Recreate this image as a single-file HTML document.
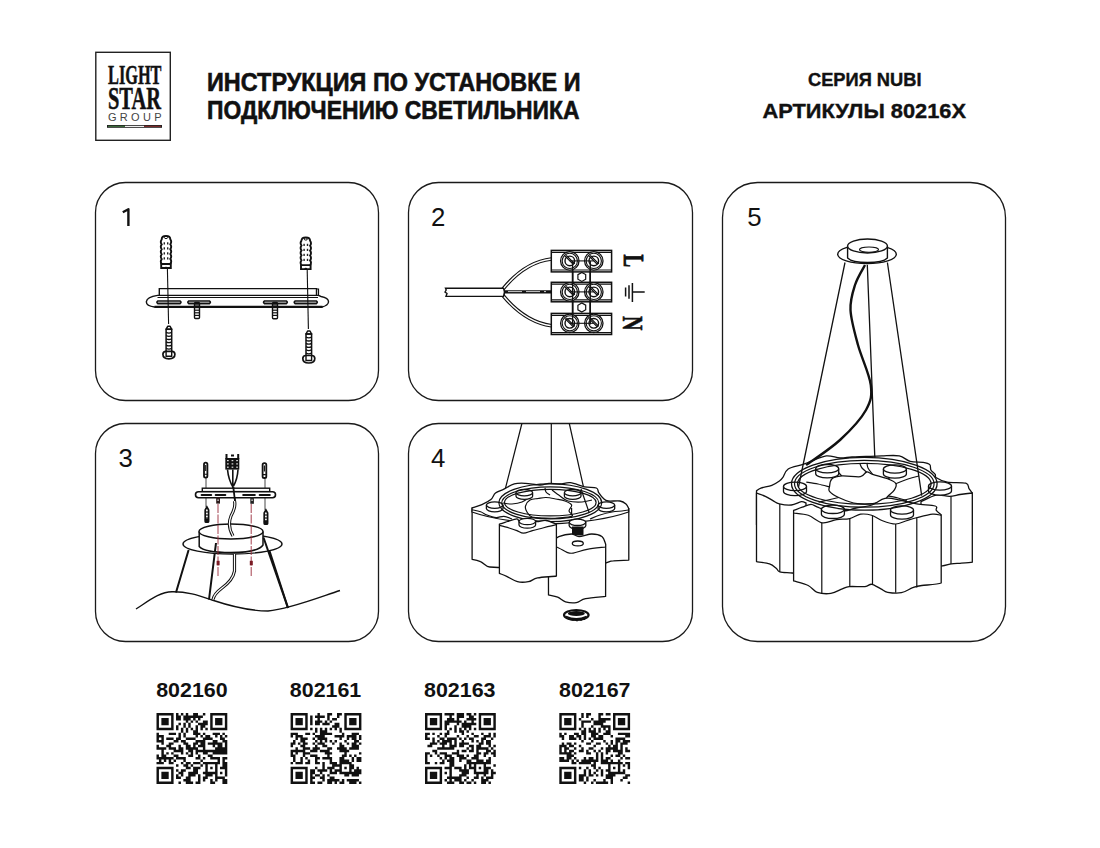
<!DOCTYPE html>
<html><head><meta charset="utf-8"><style>
html,body{margin:0;padding:0;background:#fff;width:1100px;height:848px;overflow:hidden}
svg{position:absolute;left:0;top:0;display:block}
text{font-family:"Liberation Sans",sans-serif}
</style></head><body>
<svg width="1100" height="848" viewBox="0 0 1100 848">
<text x="207" y="90.5" font-size="25.3" font-weight="bold" textLength="373.5" lengthAdjust="spacingAndGlyphs" fill="#111" stroke="#111" stroke-width="0.6">ИНСТРУКЦИЯ ПО УСТАНОВКЕ И</text>
<text x="207" y="118.9" font-size="25.3" font-weight="bold" textLength="372.5" lengthAdjust="spacingAndGlyphs" fill="#111" stroke="#111" stroke-width="0.6">ПОДКЛЮЧЕНИЮ СВЕТИЛЬНИКА</text>
<text x="808" y="86.4" font-size="18.7" font-weight="bold" textLength="113.5" lengthAdjust="spacingAndGlyphs" fill="#111" stroke="#111" stroke-width="0.4">СЕРИЯ NUBI</text>
<text x="762.5" y="118.4" font-size="21" font-weight="bold" textLength="203.5" lengthAdjust="spacingAndGlyphs" fill="#111" stroke="#111" stroke-width="0.4">АРТИКУЛЫ 80216X</text>
<rect x="95.5" y="182.5" width="283.0" height="218.0" rx="30" ry="30" fill="none" stroke="#1a1a1a" stroke-width="1.3"/>
<rect x="408.5" y="182.5" width="284.0" height="218.0" rx="30" ry="30" fill="none" stroke="#1a1a1a" stroke-width="1.3"/>
<rect x="95.5" y="423.5" width="283.0" height="218.0" rx="30" ry="30" fill="none" stroke="#1a1a1a" stroke-width="1.3"/>
<rect x="408.5" y="423.5" width="284.0" height="218.0" rx="30" ry="30" fill="none" stroke="#1a1a1a" stroke-width="1.3"/>
<rect x="722.5" y="182.5" width="283.0" height="459.0" rx="35" ry="35" fill="none" stroke="#1a1a1a" stroke-width="1.3"/>
<path d="M122.8 212.3 L128.4 209.2 V226" fill="none" stroke="#111" stroke-width="2.4" stroke-linejoin="round"/>
<text x="431" y="226" font-size="25.8" fill="#111">2</text>
<text x="118.5" y="466.8" font-size="25.8" fill="#111">3</text>
<text x="431" y="466.8" font-size="25.8" fill="#111">4</text>
<text x="747.3" y="226" font-size="25.8" fill="#111">5</text>
<text x="156.2" y="696.7" font-size="20.7" font-weight="bold" textLength="71.5" lengthAdjust="spacingAndGlyphs" fill="#111">802160</text>
<path d="M156.50 713.10h17.09v2.44h-17.09zM176.03 713.10h2.44v2.44h-2.44zM180.91 713.10h2.44v2.44h-2.44zM185.80 713.10h2.44v2.44h-2.44zM193.12 713.10h4.88v2.44h-4.88zM202.89 713.10h2.44v2.44h-2.44zM210.21 713.10h17.09v2.44h-17.09zM156.50 715.54h2.44v2.44h-2.44zM171.15 715.54h2.44v2.44h-2.44zM176.03 715.54h4.88v2.44h-4.88zM183.36 715.54h19.53v2.44h-19.53zM210.21 715.54h2.44v2.44h-2.44zM224.86 715.54h2.44v2.44h-2.44zM156.50 717.98h2.44v2.44h-2.44zM161.38 717.98h7.32v2.44h-7.32zM171.15 717.98h2.44v2.44h-2.44zM176.03 717.98h4.88v2.44h-4.88zM183.36 717.98h7.32v2.44h-7.32zM193.12 717.98h2.44v2.44h-2.44zM198.00 717.98h2.44v2.44h-2.44zM210.21 717.98h2.44v2.44h-2.44zM215.09 717.98h7.32v2.44h-7.32zM224.86 717.98h2.44v2.44h-2.44zM156.50 720.42h2.44v2.44h-2.44zM161.38 720.42h7.32v2.44h-7.32zM171.15 720.42h2.44v2.44h-2.44zM185.80 720.42h2.44v2.44h-2.44zM190.68 720.42h2.44v2.44h-2.44zM195.56 720.42h2.44v2.44h-2.44zM202.89 720.42h4.88v2.44h-4.88zM210.21 720.42h2.44v2.44h-2.44zM215.09 720.42h7.32v2.44h-7.32zM224.86 720.42h2.44v2.44h-2.44zM156.50 722.87h2.44v2.44h-2.44zM161.38 722.87h7.32v2.44h-7.32zM171.15 722.87h2.44v2.44h-2.44zM178.47 722.87h2.44v2.44h-2.44zM183.36 722.87h2.44v2.44h-2.44zM188.24 722.87h2.44v2.44h-2.44zM198.00 722.87h9.77v2.44h-9.77zM210.21 722.87h2.44v2.44h-2.44zM215.09 722.87h7.32v2.44h-7.32zM224.86 722.87h2.44v2.44h-2.44zM156.50 725.31h2.44v2.44h-2.44zM171.15 725.31h2.44v2.44h-2.44zM176.03 725.31h2.44v2.44h-2.44zM183.36 725.31h2.44v2.44h-2.44zM188.24 725.31h2.44v2.44h-2.44zM195.56 725.31h2.44v2.44h-2.44zM200.44 725.31h4.88v2.44h-4.88zM210.21 725.31h2.44v2.44h-2.44zM224.86 725.31h2.44v2.44h-2.44zM156.50 727.75h17.09v2.44h-17.09zM176.03 727.75h2.44v2.44h-2.44zM180.91 727.75h2.44v2.44h-2.44zM185.80 727.75h2.44v2.44h-2.44zM190.68 727.75h2.44v2.44h-2.44zM195.56 727.75h2.44v2.44h-2.44zM200.44 727.75h2.44v2.44h-2.44zM205.33 727.75h2.44v2.44h-2.44zM210.21 727.75h17.09v2.44h-17.09zM180.91 730.19h2.44v2.44h-2.44zM185.80 730.19h2.44v2.44h-2.44zM193.12 730.19h4.88v2.44h-4.88zM156.50 732.63h2.44v2.44h-2.44zM168.71 732.63h7.32v2.44h-7.32zM178.47 732.63h2.44v2.44h-2.44zM183.36 732.63h2.44v2.44h-2.44zM193.12 732.63h7.32v2.44h-7.32zM202.89 732.63h2.44v2.44h-2.44zM212.65 732.63h7.32v2.44h-7.32zM222.42 732.63h2.44v2.44h-2.44zM156.50 735.07h7.32v2.44h-7.32zM178.47 735.07h2.44v2.44h-2.44zM183.36 735.07h2.44v2.44h-2.44zM195.56 735.07h2.44v2.44h-2.44zM200.44 735.07h2.44v2.44h-2.44zM205.33 735.07h4.88v2.44h-4.88zM215.09 735.07h2.44v2.44h-2.44zM219.98 735.07h2.44v2.44h-2.44zM224.86 735.07h2.44v2.44h-2.44zM156.50 737.51h2.44v2.44h-2.44zM161.38 737.51h2.44v2.44h-2.44zM166.27 737.51h7.32v2.44h-7.32zM176.03 737.51h4.88v2.44h-4.88zM185.80 737.51h9.77v2.44h-9.77zM202.89 737.51h9.77v2.44h-9.77zM219.98 737.51h4.88v2.44h-4.88zM156.50 739.96h7.32v2.44h-7.32zM173.59 739.96h4.88v2.44h-4.88zM180.91 739.96h4.88v2.44h-4.88zM195.56 739.96h9.77v2.44h-9.77zM212.65 739.96h4.88v2.44h-4.88zM222.42 739.96h4.88v2.44h-4.88zM161.38 742.40h2.44v2.44h-2.44zM168.71 742.40h4.88v2.44h-4.88zM183.36 742.40h4.88v2.44h-4.88zM193.12 742.40h4.88v2.44h-4.88zM200.44 742.40h4.88v2.44h-4.88zM207.77 742.40h14.65v2.44h-14.65zM224.86 742.40h2.44v2.44h-2.44zM156.50 744.84h2.44v2.44h-2.44zM166.27 744.84h4.88v2.44h-4.88zM178.47 744.84h2.44v2.44h-2.44zM185.80 744.84h4.88v2.44h-4.88zM193.12 744.84h2.44v2.44h-2.44zM198.00 744.84h7.32v2.44h-7.32zM212.65 744.84h2.44v2.44h-2.44zM217.53 744.84h4.88v2.44h-4.88zM224.86 744.84h2.44v2.44h-2.44zM156.50 747.28h9.77v2.44h-9.77zM168.71 747.28h7.32v2.44h-7.32zM178.47 747.28h4.88v2.44h-4.88zM185.80 747.28h12.21v2.44h-12.21zM202.89 747.28h2.44v2.44h-2.44zM215.09 747.28h12.21v2.44h-12.21zM161.38 749.72h2.44v2.44h-2.44zM173.59 749.72h9.77v2.44h-9.77zM188.24 749.72h4.88v2.44h-4.88zM195.56 749.72h31.74v2.44h-31.74zM161.38 752.16h2.44v2.44h-2.44zM166.27 752.16h2.44v2.44h-2.44zM171.15 752.16h2.44v2.44h-2.44zM180.91 752.16h2.44v2.44h-2.44zM185.80 752.16h2.44v2.44h-2.44zM190.68 752.16h2.44v2.44h-2.44zM195.56 752.16h2.44v2.44h-2.44zM202.89 752.16h4.88v2.44h-4.88zM212.65 752.16h14.65v2.44h-14.65zM156.50 754.60h2.44v2.44h-2.44zM161.38 754.60h4.88v2.44h-4.88zM173.59 754.60h4.88v2.44h-4.88zM188.24 754.60h4.88v2.44h-4.88zM198.00 754.60h2.44v2.44h-2.44zM207.77 754.60h4.88v2.44h-4.88zM156.50 757.04h17.09v2.44h-17.09zM176.03 757.04h9.77v2.44h-9.77zM195.56 757.04h4.88v2.44h-4.88zM202.89 757.04h2.44v2.44h-2.44zM210.21 757.04h9.77v2.44h-9.77zM222.42 757.04h4.88v2.44h-4.88zM158.94 759.49h2.44v2.44h-2.44zM163.82 759.49h2.44v2.44h-2.44zM168.71 759.49h2.44v2.44h-2.44zM173.59 759.49h2.44v2.44h-2.44zM183.36 759.49h2.44v2.44h-2.44zM200.44 759.49h2.44v2.44h-2.44zM217.53 759.49h2.44v2.44h-2.44zM222.42 759.49h2.44v2.44h-2.44zM156.50 761.93h7.32v2.44h-7.32zM168.71 761.93h4.88v2.44h-4.88zM180.91 761.93h2.44v2.44h-2.44zM185.80 761.93h4.88v2.44h-4.88zM193.12 761.93h7.32v2.44h-7.32zM202.89 761.93h17.09v2.44h-17.09zM222.42 761.93h4.88v2.44h-4.88zM176.03 764.37h2.44v2.44h-2.44zM183.36 764.37h4.88v2.44h-4.88zM190.68 764.37h2.44v2.44h-2.44zM200.44 764.37h2.44v2.44h-2.44zM205.33 764.37h2.44v2.44h-2.44zM215.09 764.37h2.44v2.44h-2.44zM222.42 764.37h4.88v2.44h-4.88zM156.50 766.81h17.09v2.44h-17.09zM185.80 766.81h4.88v2.44h-4.88zM193.12 766.81h7.32v2.44h-7.32zM205.33 766.81h2.44v2.44h-2.44zM210.21 766.81h2.44v2.44h-2.44zM215.09 766.81h2.44v2.44h-2.44zM219.98 766.81h7.32v2.44h-7.32zM156.50 769.25h2.44v2.44h-2.44zM171.15 769.25h2.44v2.44h-2.44zM176.03 769.25h2.44v2.44h-2.44zM180.91 769.25h4.88v2.44h-4.88zM193.12 769.25h4.88v2.44h-4.88zM205.33 769.25h2.44v2.44h-2.44zM215.09 769.25h2.44v2.44h-2.44zM224.86 769.25h2.44v2.44h-2.44zM156.50 771.69h2.44v2.44h-2.44zM161.38 771.69h7.32v2.44h-7.32zM171.15 771.69h2.44v2.44h-2.44zM178.47 771.69h4.88v2.44h-4.88zM188.24 771.69h9.77v2.44h-9.77zM202.89 771.69h14.65v2.44h-14.65zM219.98 771.69h2.44v2.44h-2.44zM224.86 771.69h2.44v2.44h-2.44zM156.50 774.13h2.44v2.44h-2.44zM161.38 774.13h7.32v2.44h-7.32zM171.15 774.13h2.44v2.44h-2.44zM176.03 774.13h2.44v2.44h-2.44zM180.91 774.13h2.44v2.44h-2.44zM188.24 774.13h7.32v2.44h-7.32zM198.00 774.13h2.44v2.44h-2.44zM205.33 774.13h7.32v2.44h-7.32zM215.09 774.13h2.44v2.44h-2.44zM224.86 774.13h2.44v2.44h-2.44zM156.50 776.58h2.44v2.44h-2.44zM161.38 776.58h7.32v2.44h-7.32zM171.15 776.58h2.44v2.44h-2.44zM176.03 776.58h4.88v2.44h-4.88zM185.80 776.58h4.88v2.44h-4.88zM198.00 776.58h2.44v2.44h-2.44zM202.89 776.58h4.88v2.44h-4.88zM215.09 776.58h9.77v2.44h-9.77zM156.50 779.02h2.44v2.44h-2.44zM171.15 779.02h2.44v2.44h-2.44zM183.36 779.02h7.32v2.44h-7.32zM198.00 779.02h2.44v2.44h-2.44zM202.89 779.02h2.44v2.44h-2.44zM210.21 779.02h2.44v2.44h-2.44zM215.09 779.02h2.44v2.44h-2.44zM222.42 779.02h4.88v2.44h-4.88zM156.50 781.46h17.09v2.44h-17.09zM178.47 781.46h2.44v2.44h-2.44zM185.80 781.46h7.32v2.44h-7.32zM195.56 781.46h4.88v2.44h-4.88zM210.21 781.46h4.88v2.44h-4.88zM222.42 781.46h4.88v2.44h-4.88z" fill="#111"/>
<text x="289.8" y="696.7" font-size="20.7" font-weight="bold" textLength="71.5" lengthAdjust="spacingAndGlyphs" fill="#111">802161</text>
<path d="M290.60 713.10h17.09v2.44h-17.09zM317.46 713.10h2.44v2.44h-2.44zM327.22 713.10h4.88v2.44h-4.88zM336.99 713.10h4.88v2.44h-4.88zM344.31 713.10h17.09v2.44h-17.09zM290.60 715.54h2.44v2.44h-2.44zM305.25 715.54h2.44v2.44h-2.44zM310.13 715.54h2.44v2.44h-2.44zM315.01 715.54h9.77v2.44h-9.77zM327.22 715.54h2.44v2.44h-2.44zM336.99 715.54h2.44v2.44h-2.44zM344.31 715.54h2.44v2.44h-2.44zM358.96 715.54h2.44v2.44h-2.44zM290.60 717.98h2.44v2.44h-2.44zM295.48 717.98h7.32v2.44h-7.32zM305.25 717.98h2.44v2.44h-2.44zM310.13 717.98h2.44v2.44h-2.44zM317.46 717.98h2.44v2.44h-2.44zM327.22 717.98h2.44v2.44h-2.44zM332.10 717.98h4.88v2.44h-4.88zM344.31 717.98h2.44v2.44h-2.44zM349.19 717.98h7.32v2.44h-7.32zM358.96 717.98h2.44v2.44h-2.44zM290.60 720.42h2.44v2.44h-2.44zM295.48 720.42h7.32v2.44h-7.32zM305.25 720.42h2.44v2.44h-2.44zM310.13 720.42h2.44v2.44h-2.44zM315.01 720.42h7.32v2.44h-7.32zM324.78 720.42h2.44v2.44h-2.44zM329.66 720.42h2.44v2.44h-2.44zM344.31 720.42h2.44v2.44h-2.44zM349.19 720.42h7.32v2.44h-7.32zM358.96 720.42h2.44v2.44h-2.44zM290.60 722.87h2.44v2.44h-2.44zM295.48 722.87h7.32v2.44h-7.32zM305.25 722.87h2.44v2.44h-2.44zM310.13 722.87h2.44v2.44h-2.44zM315.01 722.87h4.88v2.44h-4.88zM322.34 722.87h7.32v2.44h-7.32zM334.54 722.87h4.88v2.44h-4.88zM344.31 722.87h2.44v2.44h-2.44zM349.19 722.87h7.32v2.44h-7.32zM358.96 722.87h2.44v2.44h-2.44zM290.60 725.31h2.44v2.44h-2.44zM305.25 725.31h2.44v2.44h-2.44zM332.10 725.31h7.32v2.44h-7.32zM344.31 725.31h2.44v2.44h-2.44zM358.96 725.31h2.44v2.44h-2.44zM290.60 727.75h17.09v2.44h-17.09zM310.13 727.75h2.44v2.44h-2.44zM315.01 727.75h2.44v2.44h-2.44zM319.90 727.75h2.44v2.44h-2.44zM324.78 727.75h2.44v2.44h-2.44zM329.66 727.75h2.44v2.44h-2.44zM334.54 727.75h2.44v2.44h-2.44zM339.43 727.75h2.44v2.44h-2.44zM344.31 727.75h17.09v2.44h-17.09zM315.01 730.19h2.44v2.44h-2.44zM319.90 730.19h7.32v2.44h-7.32zM339.43 730.19h2.44v2.44h-2.44zM290.60 732.63h7.32v2.44h-7.32zM305.25 732.63h4.88v2.44h-4.88zM312.57 732.63h2.44v2.44h-2.44zM319.90 732.63h12.21v2.44h-12.21zM341.87 732.63h2.44v2.44h-2.44zM351.63 732.63h7.32v2.44h-7.32zM290.60 735.07h2.44v2.44h-2.44zM295.48 735.07h7.32v2.44h-7.32zM315.01 735.07h9.77v2.44h-9.77zM334.54 735.07h9.77v2.44h-9.77zM346.75 735.07h9.77v2.44h-9.77zM358.96 735.07h2.44v2.44h-2.44zM295.48 737.51h2.44v2.44h-2.44zM300.37 737.51h7.32v2.44h-7.32zM312.57 737.51h2.44v2.44h-2.44zM317.46 737.51h9.77v2.44h-9.77zM339.43 737.51h2.44v2.44h-2.44zM346.75 737.51h2.44v2.44h-2.44zM351.63 737.51h4.88v2.44h-4.88zM358.96 737.51h2.44v2.44h-2.44zM293.04 739.96h2.44v2.44h-2.44zM300.37 739.96h4.88v2.44h-4.88zM315.01 739.96h2.44v2.44h-2.44zM319.90 739.96h2.44v2.44h-2.44zM324.78 739.96h2.44v2.44h-2.44zM329.66 739.96h2.44v2.44h-2.44zM334.54 739.96h2.44v2.44h-2.44zM344.31 739.96h2.44v2.44h-2.44zM354.08 739.96h4.88v2.44h-4.88zM290.60 742.40h4.88v2.44h-4.88zM297.92 742.40h2.44v2.44h-2.44zM302.81 742.40h4.88v2.44h-4.88zM312.57 742.40h2.44v2.44h-2.44zM317.46 742.40h7.32v2.44h-7.32zM332.10 742.40h2.44v2.44h-2.44zM339.43 742.40h2.44v2.44h-2.44zM346.75 742.40h2.44v2.44h-2.44zM351.63 742.40h4.88v2.44h-4.88zM358.96 742.40h2.44v2.44h-2.44zM290.60 744.84h2.44v2.44h-2.44zM300.37 744.84h4.88v2.44h-4.88zM315.01 744.84h2.44v2.44h-2.44zM322.34 744.84h4.88v2.44h-4.88zM339.43 744.84h4.88v2.44h-4.88zM351.63 744.84h7.32v2.44h-7.32zM295.48 747.28h2.44v2.44h-2.44zM302.81 747.28h7.32v2.44h-7.32zM312.57 747.28h7.32v2.44h-7.32zM327.22 747.28h4.88v2.44h-4.88zM336.99 747.28h9.77v2.44h-9.77zM349.19 747.28h9.77v2.44h-9.77zM290.60 749.72h14.65v2.44h-14.65zM310.13 749.72h7.32v2.44h-7.32zM319.90 749.72h9.77v2.44h-9.77zM339.43 749.72h9.77v2.44h-9.77zM290.60 752.16h2.44v2.44h-2.44zM295.48 752.16h2.44v2.44h-2.44zM302.81 752.16h7.32v2.44h-7.32zM324.78 752.16h7.32v2.44h-7.32zM344.31 752.16h2.44v2.44h-2.44zM358.96 752.16h2.44v2.44h-2.44zM290.60 754.60h4.88v2.44h-4.88zM302.81 754.60h2.44v2.44h-2.44zM310.13 754.60h7.32v2.44h-7.32zM327.22 754.60h2.44v2.44h-2.44zM341.87 754.60h4.88v2.44h-4.88zM349.19 754.60h2.44v2.44h-2.44zM354.08 754.60h2.44v2.44h-2.44zM293.04 757.04h2.44v2.44h-2.44zM300.37 757.04h2.44v2.44h-2.44zM305.25 757.04h2.44v2.44h-2.44zM315.01 757.04h4.88v2.44h-4.88zM322.34 757.04h9.77v2.44h-9.77zM339.43 757.04h4.88v2.44h-4.88zM351.63 757.04h2.44v2.44h-2.44zM356.52 757.04h4.88v2.44h-4.88zM293.04 759.49h2.44v2.44h-2.44zM300.37 759.49h2.44v2.44h-2.44zM307.69 759.49h2.44v2.44h-2.44zM315.01 759.49h2.44v2.44h-2.44zM329.66 759.49h2.44v2.44h-2.44zM339.43 759.49h9.77v2.44h-9.77zM351.63 759.49h2.44v2.44h-2.44zM356.52 759.49h4.88v2.44h-4.88zM290.60 761.93h2.44v2.44h-2.44zM295.48 761.93h7.32v2.44h-7.32zM305.25 761.93h4.88v2.44h-4.88zM315.01 761.93h4.88v2.44h-4.88zM322.34 761.93h2.44v2.44h-2.44zM329.66 761.93h7.32v2.44h-7.32zM339.43 761.93h12.21v2.44h-12.21zM322.34 764.37h2.44v2.44h-2.44zM332.10 764.37h9.77v2.44h-9.77zM349.19 764.37h4.88v2.44h-4.88zM290.60 766.81h17.09v2.44h-17.09zM315.01 766.81h2.44v2.44h-2.44zM322.34 766.81h2.44v2.44h-2.44zM327.22 766.81h7.32v2.44h-7.32zM339.43 766.81h2.44v2.44h-2.44zM344.31 766.81h2.44v2.44h-2.44zM349.19 766.81h4.88v2.44h-4.88zM356.52 766.81h2.44v2.44h-2.44zM290.60 769.25h2.44v2.44h-2.44zM305.25 769.25h2.44v2.44h-2.44zM310.13 769.25h4.88v2.44h-4.88zM317.46 769.25h9.77v2.44h-9.77zM329.66 769.25h2.44v2.44h-2.44zM334.54 769.25h7.32v2.44h-7.32zM349.19 769.25h2.44v2.44h-2.44zM354.08 769.25h7.32v2.44h-7.32zM290.60 771.69h2.44v2.44h-2.44zM295.48 771.69h7.32v2.44h-7.32zM305.25 771.69h2.44v2.44h-2.44zM310.13 771.69h4.88v2.44h-4.88zM319.90 771.69h2.44v2.44h-2.44zM329.66 771.69h7.32v2.44h-7.32zM339.43 771.69h21.97v2.44h-21.97zM290.60 774.13h2.44v2.44h-2.44zM295.48 774.13h7.32v2.44h-7.32zM305.25 774.13h2.44v2.44h-2.44zM310.13 774.13h2.44v2.44h-2.44zM315.01 774.13h4.88v2.44h-4.88zM322.34 774.13h2.44v2.44h-2.44zM327.22 774.13h2.44v2.44h-2.44zM344.31 774.13h4.88v2.44h-4.88zM351.63 774.13h7.32v2.44h-7.32zM290.60 776.58h2.44v2.44h-2.44zM295.48 776.58h7.32v2.44h-7.32zM305.25 776.58h2.44v2.44h-2.44zM310.13 776.58h4.88v2.44h-4.88zM319.90 776.58h4.88v2.44h-4.88zM329.66 776.58h4.88v2.44h-4.88zM290.60 779.02h2.44v2.44h-2.44zM305.25 779.02h2.44v2.44h-2.44zM310.13 779.02h2.44v2.44h-2.44zM322.34 779.02h2.44v2.44h-2.44zM327.22 779.02h12.21v2.44h-12.21zM341.87 779.02h2.44v2.44h-2.44zM346.75 779.02h12.21v2.44h-12.21zM290.60 781.46h17.09v2.44h-17.09zM310.13 781.46h4.88v2.44h-4.88zM317.46 781.46h4.88v2.44h-4.88zM327.22 781.46h4.88v2.44h-4.88zM334.54 781.46h2.44v2.44h-2.44zM339.43 781.46h4.88v2.44h-4.88zM349.19 781.46h7.32v2.44h-7.32zM358.96 781.46h2.44v2.44h-2.44z" fill="#111"/>
<text x="424.0" y="696.7" font-size="20.7" font-weight="bold" textLength="71.5" lengthAdjust="spacingAndGlyphs" fill="#111">802163</text>
<path d="M425.00 713.10h17.09v2.44h-17.09zM444.53 713.10h9.77v2.44h-9.77zM456.74 713.10h7.32v2.44h-7.32zM466.50 713.10h4.88v2.44h-4.88zM473.83 713.10h2.44v2.44h-2.44zM478.71 713.10h17.09v2.44h-17.09zM425.00 715.54h2.44v2.44h-2.44zM439.65 715.54h2.44v2.44h-2.44zM449.41 715.54h2.44v2.44h-2.44zM456.74 715.54h7.32v2.44h-7.32zM468.94 715.54h4.88v2.44h-4.88zM478.71 715.54h2.44v2.44h-2.44zM493.36 715.54h2.44v2.44h-2.44zM425.00 717.98h2.44v2.44h-2.44zM429.88 717.98h7.32v2.44h-7.32zM439.65 717.98h2.44v2.44h-2.44zM446.97 717.98h7.32v2.44h-7.32zM456.74 717.98h2.44v2.44h-2.44zM466.50 717.98h9.77v2.44h-9.77zM478.71 717.98h2.44v2.44h-2.44zM483.59 717.98h7.32v2.44h-7.32zM493.36 717.98h2.44v2.44h-2.44zM425.00 720.42h2.44v2.44h-2.44zM429.88 720.42h7.32v2.44h-7.32zM439.65 720.42h2.44v2.44h-2.44zM444.53 720.42h17.09v2.44h-17.09zM464.06 720.42h2.44v2.44h-2.44zM471.39 720.42h2.44v2.44h-2.44zM478.71 720.42h2.44v2.44h-2.44zM483.59 720.42h7.32v2.44h-7.32zM493.36 720.42h2.44v2.44h-2.44zM425.00 722.87h2.44v2.44h-2.44zM429.88 722.87h7.32v2.44h-7.32zM439.65 722.87h2.44v2.44h-2.44zM444.53 722.87h4.88v2.44h-4.88zM456.74 722.87h2.44v2.44h-2.44zM461.62 722.87h14.65v2.44h-14.65zM478.71 722.87h2.44v2.44h-2.44zM483.59 722.87h7.32v2.44h-7.32zM493.36 722.87h2.44v2.44h-2.44zM425.00 725.31h2.44v2.44h-2.44zM439.65 725.31h2.44v2.44h-2.44zM444.53 725.31h2.44v2.44h-2.44zM454.30 725.31h2.44v2.44h-2.44zM461.62 725.31h9.77v2.44h-9.77zM478.71 725.31h2.44v2.44h-2.44zM493.36 725.31h2.44v2.44h-2.44zM425.00 727.75h17.09v2.44h-17.09zM444.53 727.75h2.44v2.44h-2.44zM449.41 727.75h2.44v2.44h-2.44zM454.30 727.75h2.44v2.44h-2.44zM459.18 727.75h2.44v2.44h-2.44zM464.06 727.75h2.44v2.44h-2.44zM468.94 727.75h2.44v2.44h-2.44zM473.83 727.75h2.44v2.44h-2.44zM478.71 727.75h17.09v2.44h-17.09zM446.97 730.19h2.44v2.44h-2.44zM454.30 730.19h2.44v2.44h-2.44zM459.18 730.19h4.88v2.44h-4.88zM466.50 730.19h2.44v2.44h-2.44zM425.00 732.63h4.88v2.44h-4.88zM432.32 732.63h2.44v2.44h-2.44zM439.65 732.63h2.44v2.44h-2.44zM444.53 732.63h4.88v2.44h-4.88zM461.62 732.63h2.44v2.44h-2.44zM471.39 732.63h2.44v2.44h-2.44zM481.15 732.63h2.44v2.44h-2.44zM488.48 732.63h2.44v2.44h-2.44zM493.36 732.63h2.44v2.44h-2.44zM425.00 735.07h2.44v2.44h-2.44zM437.21 735.07h2.44v2.44h-2.44zM444.53 735.07h2.44v2.44h-2.44zM456.74 735.07h2.44v2.44h-2.44zM466.50 735.07h2.44v2.44h-2.44zM473.83 735.07h4.88v2.44h-4.88zM483.59 735.07h7.32v2.44h-7.32zM493.36 735.07h2.44v2.44h-2.44zM425.00 737.51h4.88v2.44h-4.88zM432.32 737.51h2.44v2.44h-2.44zM439.65 737.51h4.88v2.44h-4.88zM446.97 737.51h9.77v2.44h-9.77zM459.18 737.51h2.44v2.44h-2.44zM464.06 737.51h2.44v2.44h-2.44zM468.94 737.51h4.88v2.44h-4.88zM481.15 737.51h4.88v2.44h-4.88zM490.92 737.51h2.44v2.44h-2.44zM432.32 739.96h2.44v2.44h-2.44zM437.21 739.96h2.44v2.44h-2.44zM442.09 739.96h9.77v2.44h-9.77zM454.30 739.96h2.44v2.44h-2.44zM461.62 739.96h2.44v2.44h-2.44zM471.39 739.96h2.44v2.44h-2.44zM476.27 739.96h2.44v2.44h-2.44zM481.15 739.96h2.44v2.44h-2.44zM486.03 739.96h4.88v2.44h-4.88zM429.88 742.40h7.32v2.44h-7.32zM439.65 742.40h7.32v2.44h-7.32zM449.41 742.40h2.44v2.44h-2.44zM454.30 742.40h2.44v2.44h-2.44zM459.18 742.40h9.77v2.44h-9.77zM478.71 742.40h4.88v2.44h-4.88zM486.03 742.40h4.88v2.44h-4.88zM427.44 744.84h4.88v2.44h-4.88zM442.09 744.84h2.44v2.44h-2.44zM449.41 744.84h7.32v2.44h-7.32zM459.18 744.84h4.88v2.44h-4.88zM468.94 744.84h4.88v2.44h-4.88zM476.27 744.84h4.88v2.44h-4.88zM488.48 744.84h2.44v2.44h-2.44zM493.36 744.84h2.44v2.44h-2.44zM437.21 747.28h17.09v2.44h-17.09zM466.50 747.28h2.44v2.44h-2.44zM471.39 747.28h2.44v2.44h-2.44zM476.27 747.28h12.21v2.44h-12.21zM490.92 747.28h2.44v2.44h-2.44zM432.32 749.72h4.88v2.44h-4.88zM456.74 749.72h2.44v2.44h-2.44zM461.62 749.72h4.88v2.44h-4.88zM468.94 749.72h4.88v2.44h-4.88zM476.27 749.72h2.44v2.44h-2.44zM486.03 749.72h4.88v2.44h-4.88zM493.36 749.72h2.44v2.44h-2.44zM425.00 752.16h4.88v2.44h-4.88zM434.77 752.16h2.44v2.44h-2.44zM439.65 752.16h7.32v2.44h-7.32zM451.86 752.16h7.32v2.44h-7.32zM476.27 752.16h4.88v2.44h-4.88zM483.59 752.16h4.88v2.44h-4.88zM490.92 752.16h4.88v2.44h-4.88zM425.00 754.60h2.44v2.44h-2.44zM429.88 754.60h2.44v2.44h-2.44zM437.21 754.60h2.44v2.44h-2.44zM444.53 754.60h7.32v2.44h-7.32zM456.74 754.60h7.32v2.44h-7.32zM466.50 754.60h2.44v2.44h-2.44zM473.83 754.60h4.88v2.44h-4.88zM483.59 754.60h2.44v2.44h-2.44zM493.36 754.60h2.44v2.44h-2.44zM425.00 757.04h2.44v2.44h-2.44zM439.65 757.04h2.44v2.44h-2.44zM444.53 757.04h2.44v2.44h-2.44zM449.41 757.04h4.88v2.44h-4.88zM459.18 757.04h7.32v2.44h-7.32zM471.39 757.04h7.32v2.44h-7.32zM488.48 757.04h2.44v2.44h-2.44zM425.00 759.49h2.44v2.44h-2.44zM442.09 759.49h2.44v2.44h-2.44zM446.97 759.49h7.32v2.44h-7.32zM459.18 759.49h2.44v2.44h-2.44zM466.50 759.49h4.88v2.44h-4.88zM476.27 759.49h7.32v2.44h-7.32zM486.03 759.49h4.88v2.44h-4.88zM425.00 761.93h4.88v2.44h-4.88zM434.77 761.93h2.44v2.44h-2.44zM439.65 761.93h4.88v2.44h-4.88zM449.41 761.93h4.88v2.44h-4.88zM466.50 761.93h24.41v2.44h-24.41zM449.41 764.37h4.88v2.44h-4.88zM464.06 764.37h2.44v2.44h-2.44zM468.94 764.37h2.44v2.44h-2.44zM473.83 764.37h2.44v2.44h-2.44zM483.59 764.37h2.44v2.44h-2.44zM493.36 764.37h2.44v2.44h-2.44zM425.00 766.81h17.09v2.44h-17.09zM444.53 766.81h7.32v2.44h-7.32zM454.30 766.81h7.32v2.44h-7.32zM464.06 766.81h2.44v2.44h-2.44zM468.94 766.81h7.32v2.44h-7.32zM478.71 766.81h2.44v2.44h-2.44zM483.59 766.81h7.32v2.44h-7.32zM425.00 769.25h2.44v2.44h-2.44zM439.65 769.25h2.44v2.44h-2.44zM449.41 769.25h2.44v2.44h-2.44zM459.18 769.25h9.77v2.44h-9.77zM473.83 769.25h2.44v2.44h-2.44zM483.59 769.25h4.88v2.44h-4.88zM490.92 769.25h2.44v2.44h-2.44zM425.00 771.69h2.44v2.44h-2.44zM429.88 771.69h7.32v2.44h-7.32zM439.65 771.69h2.44v2.44h-2.44zM444.53 771.69h2.44v2.44h-2.44zM449.41 771.69h2.44v2.44h-2.44zM461.62 771.69h7.32v2.44h-7.32zM473.83 771.69h14.65v2.44h-14.65zM490.92 771.69h4.88v2.44h-4.88zM425.00 774.13h2.44v2.44h-2.44zM429.88 774.13h7.32v2.44h-7.32zM439.65 774.13h2.44v2.44h-2.44zM449.41 774.13h2.44v2.44h-2.44zM459.18 774.13h7.32v2.44h-7.32zM476.27 774.13h2.44v2.44h-2.44zM483.59 774.13h2.44v2.44h-2.44zM490.92 774.13h2.44v2.44h-2.44zM425.00 776.58h2.44v2.44h-2.44zM429.88 776.58h7.32v2.44h-7.32zM439.65 776.58h2.44v2.44h-2.44zM446.97 776.58h14.65v2.44h-14.65zM466.50 776.58h2.44v2.44h-2.44zM473.83 776.58h4.88v2.44h-4.88zM481.15 776.58h2.44v2.44h-2.44zM486.03 776.58h7.32v2.44h-7.32zM425.00 779.02h2.44v2.44h-2.44zM439.65 779.02h2.44v2.44h-2.44zM444.53 779.02h2.44v2.44h-2.44zM449.41 779.02h2.44v2.44h-2.44zM454.30 779.02h7.32v2.44h-7.32zM464.06 779.02h2.44v2.44h-2.44zM471.39 779.02h2.44v2.44h-2.44zM481.15 779.02h7.32v2.44h-7.32zM425.00 781.46h17.09v2.44h-17.09zM446.97 781.46h7.32v2.44h-7.32zM459.18 781.46h4.88v2.44h-4.88zM466.50 781.46h4.88v2.44h-4.88zM473.83 781.46h2.44v2.44h-2.44zM481.15 781.46h4.88v2.44h-4.88zM488.48 781.46h2.44v2.44h-2.44z" fill="#111"/>
<text x="559.0" y="696.7" font-size="20.7" font-weight="bold" textLength="71.5" lengthAdjust="spacingAndGlyphs" fill="#111">802167</text>
<path d="M559.30 713.10h17.09v2.44h-17.09zM581.27 713.10h2.44v2.44h-2.44zM586.16 713.10h4.88v2.44h-4.88zM598.36 713.10h4.88v2.44h-4.88zM605.69 713.10h4.88v2.44h-4.88zM613.01 713.10h17.09v2.44h-17.09zM559.30 715.54h2.44v2.44h-2.44zM573.95 715.54h2.44v2.44h-2.44zM581.27 715.54h2.44v2.44h-2.44zM586.16 715.54h2.44v2.44h-2.44zM598.36 715.54h2.44v2.44h-2.44zM613.01 715.54h2.44v2.44h-2.44zM627.66 715.54h2.44v2.44h-2.44zM559.30 717.98h2.44v2.44h-2.44zM564.18 717.98h7.32v2.44h-7.32zM573.95 717.98h2.44v2.44h-2.44zM578.83 717.98h2.44v2.44h-2.44zM591.04 717.98h2.44v2.44h-2.44zM598.36 717.98h12.21v2.44h-12.21zM613.01 717.98h2.44v2.44h-2.44zM617.89 717.98h7.32v2.44h-7.32zM627.66 717.98h2.44v2.44h-2.44zM559.30 720.42h2.44v2.44h-2.44zM564.18 720.42h7.32v2.44h-7.32zM573.95 720.42h2.44v2.44h-2.44zM581.27 720.42h9.77v2.44h-9.77zM593.48 720.42h12.21v2.44h-12.21zM613.01 720.42h2.44v2.44h-2.44zM617.89 720.42h7.32v2.44h-7.32zM627.66 720.42h2.44v2.44h-2.44zM559.30 722.87h2.44v2.44h-2.44zM564.18 722.87h7.32v2.44h-7.32zM573.95 722.87h2.44v2.44h-2.44zM581.27 722.87h2.44v2.44h-2.44zM593.48 722.87h9.77v2.44h-9.77zM613.01 722.87h2.44v2.44h-2.44zM617.89 722.87h7.32v2.44h-7.32zM627.66 722.87h2.44v2.44h-2.44zM559.30 725.31h2.44v2.44h-2.44zM573.95 725.31h2.44v2.44h-2.44zM581.27 725.31h2.44v2.44h-2.44zM591.04 725.31h2.44v2.44h-2.44zM600.80 725.31h9.77v2.44h-9.77zM613.01 725.31h2.44v2.44h-2.44zM627.66 725.31h2.44v2.44h-2.44zM559.30 727.75h17.09v2.44h-17.09zM578.83 727.75h2.44v2.44h-2.44zM583.71 727.75h2.44v2.44h-2.44zM588.60 727.75h2.44v2.44h-2.44zM593.48 727.75h2.44v2.44h-2.44zM598.36 727.75h2.44v2.44h-2.44zM603.24 727.75h2.44v2.44h-2.44zM608.13 727.75h2.44v2.44h-2.44zM613.01 727.75h17.09v2.44h-17.09zM581.27 730.19h4.88v2.44h-4.88zM588.60 730.19h7.32v2.44h-7.32zM598.36 730.19h2.44v2.44h-2.44zM605.69 730.19h4.88v2.44h-4.88zM559.30 732.63h2.44v2.44h-2.44zM564.18 732.63h2.44v2.44h-2.44zM573.95 732.63h4.88v2.44h-4.88zM581.27 732.63h4.88v2.44h-4.88zM591.04 732.63h7.32v2.44h-7.32zM603.24 732.63h7.32v2.44h-7.32zM617.89 732.63h12.21v2.44h-12.21zM559.30 735.07h4.88v2.44h-4.88zM569.07 735.07h4.88v2.44h-4.88zM576.39 735.07h4.88v2.44h-4.88zM583.71 735.07h2.44v2.44h-2.44zM591.04 735.07h4.88v2.44h-4.88zM598.36 735.07h4.88v2.44h-4.88zM610.57 735.07h2.44v2.44h-2.44zM625.22 735.07h4.88v2.44h-4.88zM561.74 737.51h2.44v2.44h-2.44zM569.07 737.51h7.32v2.44h-7.32zM578.83 737.51h2.44v2.44h-2.44zM583.71 737.51h2.44v2.44h-2.44zM588.60 737.51h2.44v2.44h-2.44zM593.48 737.51h9.77v2.44h-9.77zM615.45 737.51h9.77v2.44h-9.77zM581.27 739.96h2.44v2.44h-2.44zM591.04 739.96h2.44v2.44h-2.44zM603.24 739.96h2.44v2.44h-2.44zM610.57 739.96h2.44v2.44h-2.44zM615.45 739.96h4.88v2.44h-4.88zM622.78 739.96h7.32v2.44h-7.32zM561.74 742.40h2.44v2.44h-2.44zM566.62 742.40h4.88v2.44h-4.88zM573.95 742.40h2.44v2.44h-2.44zM586.16 742.40h4.88v2.44h-4.88zM595.92 742.40h4.88v2.44h-4.88zM605.69 742.40h2.44v2.44h-2.44zM610.57 742.40h2.44v2.44h-2.44zM615.45 742.40h2.44v2.44h-2.44zM620.33 742.40h7.32v2.44h-7.32zM559.30 744.84h7.32v2.44h-7.32zM569.07 744.84h4.88v2.44h-4.88zM578.83 744.84h2.44v2.44h-2.44zM593.48 744.84h2.44v2.44h-2.44zM608.13 744.84h2.44v2.44h-2.44zM613.01 744.84h4.88v2.44h-4.88zM620.33 744.84h2.44v2.44h-2.44zM559.30 747.28h2.44v2.44h-2.44zM564.18 747.28h4.88v2.44h-4.88zM573.95 747.28h2.44v2.44h-2.44zM581.27 747.28h2.44v2.44h-2.44zM588.60 747.28h4.88v2.44h-4.88zM600.80 747.28h2.44v2.44h-2.44zM605.69 747.28h12.21v2.44h-12.21zM620.33 747.28h2.44v2.44h-2.44zM625.22 747.28h2.44v2.44h-2.44zM559.30 749.72h2.44v2.44h-2.44zM564.18 749.72h2.44v2.44h-2.44zM569.07 749.72h4.88v2.44h-4.88zM578.83 749.72h4.88v2.44h-4.88zM586.16 749.72h2.44v2.44h-2.44zM593.48 749.72h2.44v2.44h-2.44zM598.36 749.72h2.44v2.44h-2.44zM605.69 749.72h4.88v2.44h-4.88zM613.01 749.72h9.77v2.44h-9.77zM625.22 749.72h4.88v2.44h-4.88zM559.30 752.16h12.21v2.44h-12.21zM573.95 752.16h2.44v2.44h-2.44zM586.16 752.16h4.88v2.44h-4.88zM595.92 752.16h2.44v2.44h-2.44zM600.80 752.16h2.44v2.44h-2.44zM605.69 752.16h2.44v2.44h-2.44zM617.89 752.16h4.88v2.44h-4.88zM566.62 754.60h7.32v2.44h-7.32zM595.92 754.60h2.44v2.44h-2.44zM600.80 754.60h2.44v2.44h-2.44zM610.57 754.60h2.44v2.44h-2.44zM615.45 754.60h4.88v2.44h-4.88zM622.78 754.60h2.44v2.44h-2.44zM559.30 757.04h4.88v2.44h-4.88zM566.62 757.04h4.88v2.44h-4.88zM573.95 757.04h2.44v2.44h-2.44zM583.71 757.04h2.44v2.44h-2.44zM588.60 757.04h4.88v2.44h-4.88zM595.92 757.04h2.44v2.44h-2.44zM600.80 757.04h2.44v2.44h-2.44zM605.69 757.04h4.88v2.44h-4.88zM620.33 757.04h2.44v2.44h-2.44zM625.22 757.04h4.88v2.44h-4.88zM559.30 759.49h9.77v2.44h-9.77zM571.51 759.49h2.44v2.44h-2.44zM576.39 759.49h2.44v2.44h-2.44zM581.27 759.49h17.09v2.44h-17.09zM600.80 759.49h7.32v2.44h-7.32zM610.57 759.49h2.44v2.44h-2.44zM617.89 759.49h2.44v2.44h-2.44zM571.51 761.93h4.88v2.44h-4.88zM578.83 761.93h12.21v2.44h-12.21zM593.48 761.93h2.44v2.44h-2.44zM600.80 761.93h21.97v2.44h-21.97zM625.22 761.93h4.88v2.44h-4.88zM591.04 764.37h4.88v2.44h-4.88zM608.13 764.37h2.44v2.44h-2.44zM617.89 764.37h2.44v2.44h-2.44zM622.78 764.37h2.44v2.44h-2.44zM627.66 764.37h2.44v2.44h-2.44zM559.30 766.81h17.09v2.44h-17.09zM578.83 766.81h2.44v2.44h-2.44zM586.16 766.81h2.44v2.44h-2.44zM593.48 766.81h2.44v2.44h-2.44zM598.36 766.81h2.44v2.44h-2.44zM608.13 766.81h2.44v2.44h-2.44zM613.01 766.81h2.44v2.44h-2.44zM617.89 766.81h2.44v2.44h-2.44zM627.66 766.81h2.44v2.44h-2.44zM559.30 769.25h2.44v2.44h-2.44zM573.95 769.25h2.44v2.44h-2.44zM583.71 769.25h2.44v2.44h-2.44zM588.60 769.25h2.44v2.44h-2.44zM595.92 769.25h2.44v2.44h-2.44zM600.80 769.25h2.44v2.44h-2.44zM605.69 769.25h4.88v2.44h-4.88zM617.89 769.25h2.44v2.44h-2.44zM622.78 769.25h2.44v2.44h-2.44zM559.30 771.69h2.44v2.44h-2.44zM564.18 771.69h7.32v2.44h-7.32zM573.95 771.69h2.44v2.44h-2.44zM583.71 771.69h2.44v2.44h-2.44zM588.60 771.69h2.44v2.44h-2.44zM593.48 771.69h2.44v2.44h-2.44zM600.80 771.69h2.44v2.44h-2.44zM608.13 771.69h17.09v2.44h-17.09zM559.30 774.13h2.44v2.44h-2.44zM564.18 774.13h7.32v2.44h-7.32zM573.95 774.13h2.44v2.44h-2.44zM578.83 774.13h7.32v2.44h-7.32zM588.60 774.13h4.88v2.44h-4.88zM595.92 774.13h2.44v2.44h-2.44zM600.80 774.13h2.44v2.44h-2.44zM605.69 774.13h9.77v2.44h-9.77zM625.22 774.13h4.88v2.44h-4.88zM559.30 776.58h2.44v2.44h-2.44zM564.18 776.58h7.32v2.44h-7.32zM573.95 776.58h2.44v2.44h-2.44zM578.83 776.58h4.88v2.44h-4.88zM586.16 776.58h2.44v2.44h-2.44zM605.69 776.58h7.32v2.44h-7.32zM622.78 776.58h4.88v2.44h-4.88zM559.30 779.02h2.44v2.44h-2.44zM573.95 779.02h2.44v2.44h-2.44zM578.83 779.02h4.88v2.44h-4.88zM586.16 779.02h2.44v2.44h-2.44zM593.48 779.02h2.44v2.44h-2.44zM603.24 779.02h2.44v2.44h-2.44zM610.57 779.02h2.44v2.44h-2.44zM620.33 779.02h2.44v2.44h-2.44zM559.30 781.46h17.09v2.44h-17.09zM583.71 781.46h2.44v2.44h-2.44zM591.04 781.46h2.44v2.44h-2.44zM595.92 781.46h12.21v2.44h-12.21zM610.57 781.46h2.44v2.44h-2.44zM627.66 781.46h2.44v2.44h-2.44z" fill="#111"/><rect x="95.8" y="52.3" width="74.5" height="88" fill="none" stroke="#222" stroke-width="1.4"/>
<text x="108" y="84.3" font-family="Liberation Serif" font-size="27.5" font-weight="bold" textLength="53.5" lengthAdjust="spacingAndGlyphs" fill="#111" stroke="#111" stroke-width="0.5" style="font-family:'Liberation Serif',serif">LIGHT</text>
<text x="108" y="109.2" font-family="Liberation Serif" font-size="31.5" font-weight="bold" textLength="53" lengthAdjust="spacingAndGlyphs" fill="#111" stroke="#111" stroke-width="0.5" style="font-family:'Liberation Serif',serif">STAR</text>
<text x="108" y="120.6" font-size="11" textLength="53.5" lengthAdjust="spacing" fill="#444">GROUP</text>
<rect x="107" y="125" width="55" height="2.8" fill="#222"/>
<rect x="108" y="125.8" width="17" height="1.2" fill="#3a6a3a"/>
<rect x="125" y="125.8" width="19" height="1.2" fill="#eee"/>
<rect x="144" y="125.8" width="17" height="1.2" fill="#7a2a2a"/>
<path d="M161.7 264.0 q-1.8 -2.5 0 -4.9 q-1.8 -2.5 0 -4.9 q-1.8 -2.5 0 -4.9 q-1.8 -2.5 0 -4.9 q-1.8 -2.5 0 -4.9 L161.7 239.3 C161.7 234.7 170.3 234.7 170.3 239.3 q1.8 2.5 0 4.9 q1.8 2.5 0 4.9 q1.8 2.5 0 4.9 q1.8 2.5 0 4.9 q1.8 2.5 0 4.9 " stroke="#111" fill="none" stroke-width="1.9"/><path d="M161.2 264.0h9.6v4h-9.6z" stroke="#111" fill="none" stroke-width="1.9"/><ellipse cx="166.0" cy="237.5" rx="1.6" ry="1.1" fill="none" stroke="#111" stroke-width="1"/><rect x="163.6" y="242.3" width="1.4" height="2.2" fill="#222"/><rect x="167.0" y="242.3" width="1.4" height="2.2" fill="#222"/><rect x="163.6" y="247.3" width="1.4" height="2.2" fill="#222"/><rect x="167.0" y="247.3" width="1.4" height="2.2" fill="#222"/><rect x="163.6" y="252.3" width="1.4" height="2.2" fill="#222"/><rect x="167.0" y="252.3" width="1.4" height="2.2" fill="#222"/><rect x="163.6" y="257.3" width="1.4" height="2.2" fill="#222"/><rect x="167.0" y="257.3" width="1.4" height="2.2" fill="#222"/><ellipse cx="166.0" cy="267.7" rx="1.4" ry="1" fill="#111"/><path d="M301.5 265.1 q-1.8 -2.4 0 -4.9 q-1.8 -2.4 0 -4.9 q-1.8 -2.4 0 -4.9 q-1.8 -2.4 0 -4.9 q-1.8 -2.4 0 -4.9 L301.5 240.8 C301.5 236.2 310.1 236.2 310.1 240.8 q1.8 2.4 0 4.9 q1.8 2.4 0 4.9 q1.8 2.4 0 4.9 q1.8 2.4 0 4.9 q1.8 2.4 0 4.9 " stroke="#111" fill="none" stroke-width="1.9"/><path d="M301.0 265.1h9.6v4h-9.6z" stroke="#111" fill="none" stroke-width="1.9"/><ellipse cx="305.8" cy="239.0" rx="1.6" ry="1.1" fill="none" stroke="#111" stroke-width="1"/><rect x="303.4" y="243.8" width="1.4" height="2.2" fill="#222"/><rect x="306.8" y="243.8" width="1.4" height="2.2" fill="#222"/><rect x="303.4" y="248.8" width="1.4" height="2.2" fill="#222"/><rect x="306.8" y="248.8" width="1.4" height="2.2" fill="#222"/><rect x="303.4" y="253.8" width="1.4" height="2.2" fill="#222"/><rect x="306.8" y="253.8" width="1.4" height="2.2" fill="#222"/><rect x="303.4" y="258.8" width="1.4" height="2.2" fill="#222"/><rect x="306.8" y="258.8" width="1.4" height="2.2" fill="#222"/><ellipse cx="305.8" cy="268.8" rx="1.4" ry="1" fill="#111"/><path d="M167.4 268.5 L168.6 324" stroke="#111" fill="none" stroke-width="1.1"/><path d="M307.2 269.5 L308.4 329" stroke="#111" fill="none" stroke-width="1.1"/><path d="M159.3 295.4 V288.6 H316.5 V295.4" stroke="#111" fill="none" stroke-width="1.4"/><path d="M316.5 289 h2 v6.5" stroke="#111" fill="none" stroke-width="1.2"/><path d="M157.5 295.4 H318.5 L321 296.5 Q328.8 298 328.5 302 Q328 305.5 322 307 H154.5 Q146.3 306 146.3 301.8 Q147 297 157.5 295.4z" stroke="#111" fill="none" stroke-width="1.4"/><path d="M154.5 306.8 H322.5" stroke="#111" fill="none" stroke-width="2.2"/><path d="M157.5 297.5 H318" stroke="#111" fill="none" stroke-width="1.2"/><path d="M157.9 301.0 L180.0 301.0 Q182.0 302.2 180.0 303.5 L157.9 303.5 Q155.9 302.2 157.9 301.0z" stroke="#111" fill="none" stroke-width="1.6"/><path d="M157.4 303.5H180.5" stroke="#111" stroke-width="1.6"/><path d="M188.8 301.0 L209.4 301.0 Q211.4 302.2 209.4 303.5 L188.8 303.5 Q186.8 302.2 188.8 301.0z" stroke="#111" fill="none" stroke-width="1.6"/><path d="M188.3 303.5H209.9" stroke="#111" stroke-width="1.6"/><path d="M264.5 301.0 L286.3 301.0 Q288.3 302.2 286.3 303.5 L264.5 303.5 Q262.5 302.2 264.5 301.0z" stroke="#111" fill="none" stroke-width="1.6"/><path d="M264.0 303.5H286.8" stroke="#111" stroke-width="1.6"/><path d="M295.2 301.0 L316.3 301.0 Q318.3 302.2 316.3 303.5 L295.2 303.5 Q293.2 302.2 295.2 301.0z" stroke="#111" fill="none" stroke-width="1.6"/><path d="M294.7 303.5H316.8" stroke="#111" stroke-width="1.6"/><rect x="194.5" y="302.5" width="5.0" height="16.0" rx="1" stroke="#111" fill="none" stroke-width="1.4"/><path d="M194.5 305.0h5.0" stroke="#111" fill="none" stroke-width="1.2"/><path d="M194.5 307.6h5.0" stroke="#111" fill="none" stroke-width="1.2"/><path d="M194.5 310.2h5.0" stroke="#111" fill="none" stroke-width="1.2"/><path d="M194.5 312.8h5.0" stroke="#111" fill="none" stroke-width="1.2"/><path d="M194.5 315.4h5.0" stroke="#111" fill="none" stroke-width="1.2"/><rect x="272.5" y="302.5" width="5.0" height="16.3" rx="1" stroke="#111" fill="none" stroke-width="1.4"/><path d="M272.5 305.0h5.0" stroke="#111" fill="none" stroke-width="1.2"/><path d="M272.5 307.6h5.0" stroke="#111" fill="none" stroke-width="1.2"/><path d="M272.5 310.2h5.0" stroke="#111" fill="none" stroke-width="1.2"/><path d="M272.5 312.8h5.0" stroke="#111" fill="none" stroke-width="1.2"/><path d="M272.5 315.4h5.0" stroke="#111" fill="none" stroke-width="1.2"/><path d="M167.7 326.3 L170.1 326.3 L171.7 329.3 L166.1 329.3 z" stroke="#111" fill="none" stroke-width="1.5" stroke-linejoin="round"/><rect x="166.1" y="329.3" width="5.6" height="24.5" stroke="#111" fill="none" stroke-width="1.5"/><path d="M166.1 332.3q2.8 1.6 5.6 0" stroke="#111" fill="none" stroke-width="1.3"/><path d="M166.1 335.5q2.8 1.6 5.6 0" stroke="#111" fill="none" stroke-width="1.3"/><path d="M166.1 338.7q2.8 1.6 5.6 0" stroke="#111" fill="none" stroke-width="1.3"/><path d="M166.1 341.9q2.8 1.6 5.6 0" stroke="#111" fill="none" stroke-width="1.3"/><path d="M166.1 345.1q2.8 1.6 5.6 0" stroke="#111" fill="none" stroke-width="1.3"/><path d="M166.1 348.3q2.8 1.6 5.6 0" stroke="#111" fill="none" stroke-width="1.3"/><path d="M166.1 351.5q2.8 1.6 5.6 0" stroke="#111" fill="none" stroke-width="1.3"/><path d="M162.9 354.3 Q162.9 351.3 166.1 351.3 H171.7 Q174.9 351.3 174.9 354.3 Q174.9 358.8 168.9 358.8 Q162.9 358.8 162.9 354.3z" fill="#fff" stroke="#111" stroke-width="1.7"/><path d="M166.1 350.8 V356.3 H171.7 V350.8" stroke="#111" fill="none" stroke-width="1.4"/><path d="M307.6 331.0 L310.0 331.0 L311.6 334.0 L306.0 334.0 z" stroke="#111" fill="none" stroke-width="1.5" stroke-linejoin="round"/><rect x="306.0" y="334.0" width="5.6" height="24.0" stroke="#111" fill="none" stroke-width="1.5"/><path d="M306.0 337.0q2.8 1.6 5.6 0" stroke="#111" fill="none" stroke-width="1.3"/><path d="M306.0 340.2q2.8 1.6 5.6 0" stroke="#111" fill="none" stroke-width="1.3"/><path d="M306.0 343.4q2.8 1.6 5.6 0" stroke="#111" fill="none" stroke-width="1.3"/><path d="M306.0 346.6q2.8 1.6 5.6 0" stroke="#111" fill="none" stroke-width="1.3"/><path d="M306.0 349.8q2.8 1.6 5.6 0" stroke="#111" fill="none" stroke-width="1.3"/><path d="M306.0 353.0q2.8 1.6 5.6 0" stroke="#111" fill="none" stroke-width="1.3"/><path d="M306.0 356.2q2.8 1.6 5.6 0" stroke="#111" fill="none" stroke-width="1.3"/><path d="M302.8 358.5 Q302.8 355.5 306.0 355.5 H311.6 Q314.8 355.5 314.8 358.5 Q314.8 363.0 308.8 363.0 Q302.8 363.0 302.8 358.5z" fill="#fff" stroke="#111" stroke-width="1.7"/><path d="M306.0 355.0 V360.5 H311.6 V355.0" stroke="#111" fill="none" stroke-width="1.4"/><path d="M503 289 Q525 262 551.5 259" stroke="#111" stroke-width="3.6" fill="none"/><path d="M503 289 Q525 262 551.5 259" stroke="#fff" stroke-width="1.4" fill="none"/><path d="M503 295.5 Q525 322 551.5 325.8" stroke="#111" stroke-width="3.6" fill="none"/><path d="M503 295.5 Q525 322 551.5 325.8" stroke="#fff" stroke-width="1.4" fill="none"/><path d="M503 291.8 H551.5" stroke="#111" stroke-width="3.2" fill="none"/><path d="M508 291.6 H546" stroke="#fff" stroke-width="0.8" stroke-dasharray="14 4" fill="none"/><path d="M445.5 288.3 H503.5 Q505.5 292.3 503.5 296.4 H446 L447 293.5 L445 292 L446.2 290z" fill="#fff" stroke="#111" stroke-width="1.4"/><rect x="572.6" y="261" width="17.7" height="63" fill="#fff" stroke="#111" stroke-width="1.4"/><rect x="551.3" y="250.4" width="60.3" height="21.5" fill="#fff" stroke="#111" stroke-width="1.5"/><path d="M551.3 252.3H611.6M551.3 270.0H611.6" stroke="#111" fill="none" stroke-width="1.2"/><rect x="551.3" y="282.3" width="60.3" height="19.5" fill="#fff" stroke="#111" stroke-width="1.5"/><path d="M551.3 284.2H611.6M551.3 299.9H611.6" stroke="#111" fill="none" stroke-width="1.2"/><rect x="551.3" y="313.4" width="60.3" height="21.1" fill="#fff" stroke="#111" stroke-width="1.5"/><path d="M551.3 315.3H611.6M551.3 332.6H611.6" stroke="#111" fill="none" stroke-width="1.2"/><path d="M572.6 261V324.5M590.3 261V324.5" stroke="#111" fill="none" stroke-width="1.4"/><circle cx="569.8" cy="260.9" r="9.2" fill="#fff" stroke="#111" stroke-width="1.3"/><circle cx="569.8" cy="260.9" r="7.6" stroke="#111" fill="none" stroke-width="1.1"/><circle cx="569.8" cy="260.9" r="4.8" stroke="#111" fill="none" stroke-width="1.4"/><path d="M564.8 255.9L573.3 264.4M566.3 255.4L574.8 263.9" stroke="#111" fill="none" stroke-width="1.2"/><circle cx="593.8" cy="260.9" r="9.2" fill="#fff" stroke="#111" stroke-width="1.3"/><circle cx="593.8" cy="260.9" r="7.6" stroke="#111" fill="none" stroke-width="1.1"/><circle cx="593.8" cy="260.9" r="4.8" stroke="#111" fill="none" stroke-width="1.4"/><path d="M588.8 255.9L597.3 264.4M590.3 255.4L598.8 263.9" stroke="#111" fill="none" stroke-width="1.2"/><path d="M569.8 260.9H593.8" stroke="#111" fill="none" stroke-width="1.1"/><circle cx="569.8" cy="291.9" r="9.2" fill="#fff" stroke="#111" stroke-width="1.3"/><circle cx="569.8" cy="291.9" r="7.6" stroke="#111" fill="none" stroke-width="1.1"/><circle cx="569.8" cy="291.9" r="4.8" stroke="#111" fill="none" stroke-width="1.4"/><path d="M564.8 286.9L573.3 295.4M566.3 286.4L574.8 294.9" stroke="#111" fill="none" stroke-width="1.2"/><circle cx="593.8" cy="291.9" r="9.2" fill="#fff" stroke="#111" stroke-width="1.3"/><circle cx="593.8" cy="291.9" r="7.6" stroke="#111" fill="none" stroke-width="1.1"/><circle cx="593.8" cy="291.9" r="4.8" stroke="#111" fill="none" stroke-width="1.4"/><path d="M588.8 286.9L597.3 295.4M590.3 286.4L598.8 294.9" stroke="#111" fill="none" stroke-width="1.2"/><path d="M569.8 291.9H593.8" stroke="#111" fill="none" stroke-width="1.1"/><circle cx="569.8" cy="323.3" r="9.2" fill="#fff" stroke="#111" stroke-width="1.3"/><circle cx="569.8" cy="323.3" r="7.6" stroke="#111" fill="none" stroke-width="1.1"/><circle cx="569.8" cy="323.3" r="4.8" stroke="#111" fill="none" stroke-width="1.4"/><path d="M564.8 318.3L573.3 326.8M566.3 317.8L574.8 326.3" stroke="#111" fill="none" stroke-width="1.2"/><circle cx="593.8" cy="323.3" r="9.2" fill="#fff" stroke="#111" stroke-width="1.3"/><circle cx="593.8" cy="323.3" r="7.6" stroke="#111" fill="none" stroke-width="1.1"/><circle cx="593.8" cy="323.3" r="4.8" stroke="#111" fill="none" stroke-width="1.4"/><path d="M588.8 318.3L597.3 326.8M590.3 317.8L598.8 326.3" stroke="#111" fill="none" stroke-width="1.2"/><path d="M569.8 323.3H593.8" stroke="#111" fill="none" stroke-width="1.1"/><path d="M572.6 261V324.5M590.3 261V324.5" stroke="#111" fill="none" stroke-width="1.3"/><polygon points="585.7,279.2 581.8,281.4 577.9,279.2 577.9,274.7 581.8,272.4 585.7,274.6" stroke="#111" fill="none" stroke-width="1.2"/><polygon points="585.7,309.8 581.8,312.0 577.9,309.8 577.9,305.3 581.8,303.0 585.7,305.2" stroke="#111" fill="none" stroke-width="1.2"/><text transform="translate(624.2,254.5) rotate(90) scale(0.66,1)" font-size="28.5" font-weight="bold" fill="#111" stroke="#111" stroke-width="0.9" style="font-family:'Liberation Serif',serif">L</text><text transform="translate(623.2,316) rotate(90) scale(0.7,1)" font-size="28.5" font-weight="bold" fill="#111" stroke="#111" stroke-width="0.6" style="font-family:'Liberation Serif',serif">N</text><path d="M625.6 287.5V296.5M629 285.3V298.8M632.4 283V302M633 292H644.7" stroke="#111" fill="none" stroke-width="1.5"/><path d="M188.6 550 L176 592.5M216 543 L209 599.5M265 537 L288 608" stroke="#111" fill="none" stroke-width="2"/><path d="M136 609 C150 600 160 592 172 591.8 C188 591.5 200 596 212 600 C230 606 248 611 268 611 C290 609 320 597 340 590.5" stroke="#111" fill="none" stroke-width="1.4"/><ellipse cx="232.5" cy="544" rx="49.5" ry="10" fill="#fff" stroke="#111" stroke-width="1.4"/><path d="M199.2 531.5 V546.5 Q204 552.5 231 552.5 Q258 552.5 263 545 V531.5" fill="#fff" stroke="#111" stroke-width="1.5"/><ellipse cx="231" cy="531.5" rx="32" ry="7.5" fill="#fff" stroke="#111" stroke-width="1.5"/><path d="M234.5 501 Q236 507 231 516 Q227 526 233 536" stroke="#111" stroke-width="3.2" fill="none"/><path d="M234.5 501 Q236 507 231 516 Q227 526 233 536" stroke="#fff" stroke-width="1.2" fill="none"/><path d="M234.5 554 V571 Q233 580 222 588 Q214 594 213 599.5" stroke="#111" stroke-width="3.2" fill="none"/><path d="M234.5 554 V571 Q233 580 222 588 Q214 594 213 599.5" stroke="#fff" stroke-width="1.2" fill="none"/><path d="M216 543 L215 551" stroke="#111" fill="none" stroke-width="2"/><path d="M263.5 537.5 L288 608" stroke="#111" fill="none" stroke-width="2"/><path d="M218 504 V576M251.2 504 V576" stroke="#9a2a3a" stroke-width="0.9" stroke-dasharray="9 1.5" fill="none"/><rect x="216.6" y="560.8" width="3" height="4.5" fill="#7a1a24"/><rect x="249.8" y="560.8" width="3" height="4.5" fill="#7a1a24"/><path d="M206 478V507M265 478.5V510" stroke="#333" stroke-width="0.9" fill="none"/><rect x="204.0" y="462.6" width="3.4" height="15.0" rx="1.6" fill="#fff" stroke="#111" stroke-width="1.8"/><path d="M205.7 465.0v6M204.4 474.2h2.6" stroke="#111" fill="none" stroke-width="1.1"/><rect x="262.6" y="463.1" width="3.7" height="14.9" rx="1.6" fill="#fff" stroke="#111" stroke-width="1.8"/><path d="M264.4 465.5v6M263.0 474.6h2.9" stroke="#111" fill="none" stroke-width="1.1"/><path d="M227.5 469.5 Q228.5 480 233.2 487.5 M232.8 469.5 V488 M238 469.5 Q237.5 479 233.5 486 M233.3 487 L235 501" stroke="#111" fill="none" stroke-width="1.6"/><rect x="225.3" y="458" width="14" height="11.6" fill="#111"/><path d="M226.5 454v5M238.2 454v5M231 455.5h3" stroke="#111" stroke-width="2" fill="none"/><rect x="227.0" y="460.0" width="1.7" height="1.2" fill="#ddd"/><rect x="231.6" y="460.0" width="1.7" height="1.2" fill="#ddd"/><rect x="236.2" y="460.0" width="1.7" height="1.2" fill="#ddd"/><rect x="227.0" y="463.3" width="1.7" height="1.2" fill="#ddd"/><rect x="231.6" y="463.3" width="1.7" height="1.2" fill="#ddd"/><rect x="236.2" y="463.3" width="1.7" height="1.2" fill="#ddd"/><rect x="227.0" y="466.6" width="1.7" height="1.2" fill="#ddd"/><rect x="231.6" y="466.6" width="1.7" height="1.2" fill="#ddd"/><rect x="236.2" y="466.6" width="1.7" height="1.2" fill="#ddd"/><rect x="202.3" y="488.2" width="67.4" height="3.4" fill="#fff" stroke="#111" stroke-width="1.4"/><rect x="195.5" y="491.8" width="80" height="5.9" rx="3" fill="#fff" stroke="#111" stroke-width="1.6"/><rect x="200.6" y="493.9" width="11.6" height="2" rx="1" fill="#111"/><rect x="214.7" y="493.9" width="11.6" height="2" rx="1" fill="#111"/><rect x="242.2" y="493.9" width="13.6" height="2" rx="1" fill="#111"/><rect x="258.7" y="493.9" width="12.1" height="2" rx="1" fill="#111"/><path d="M233.3 487 L235 501" stroke="#111" fill="none" stroke-width="1.8"/><rect x="216.2" y="497" width="3.8" height="6.6" fill="#2a1a1a"/><rect x="217.3" y="499.5" width="1.6" height="1.3" fill="#ddd"/><rect x="250.3" y="497" width="3.6" height="6.8" fill="#222"/><rect x="251.3" y="499.5" width="1.6" height="1.3" fill="#ddd"/><path d="M206.9 507.0 L208.6 510.0 V519.4 H205.2 V510.0 z" fill="#fff" stroke="#111" stroke-width="1.7"/><path d="M205.4 512.0h3.0" stroke="#111" fill="none" stroke-width="1.2"/><path d="M205.4 515.0h3.0" stroke="#111" fill="none" stroke-width="1.2"/><path d="M205.4 518.0h3.0" stroke="#111" fill="none" stroke-width="1.2"/><rect x="204.4" y="518.9" width="5.0" height="4" rx="1.5" fill="#111"/><path d="M265.9 510.0 L267.6 513.0 V521.4 H264.2 V513.0 z" fill="#fff" stroke="#111" stroke-width="1.7"/><path d="M264.4 515.0h3.0" stroke="#111" fill="none" stroke-width="1.2"/><path d="M264.4 518.0h3.0" stroke="#111" fill="none" stroke-width="1.2"/><path d="M264.4 521.0h3.0" stroke="#111" fill="none" stroke-width="1.2"/><rect x="263.4" y="520.9" width="5.0" height="4" rx="1.5" fill="#111"/><path d="M521.9 423.5 L504.5 492 M551.3 423.5 V485.5 M569.3 423.5 L589.3 513" stroke="#111" fill="none" stroke-width="1.2"/><path d="M472.1 507.9 V559.3 C476 560 478 560.5 480.5 561.6 C484 563 486 567 489.7 567 L498.2 567.5 L556 567 L605.6 563.2 C609 562 610 561 613.4 560.9 L628.8 560.1 V508.3 L472 508.3z" fill="#fff" stroke="#111" stroke-width="1.3" stroke-linejoin="round"/><path d="M472.1 507.9 C473.7 507.3 478.8 506.0 481.9 504.6 C485.0 503.2 488.6 501.4 490.9 499.5 C493.2 497.6 493.3 494.7 495.5 493.0 C497.7 491.3 500.8 490.6 503.9 489.1 C507.0 487.6 510.7 484.9 514.3 483.9 C517.9 482.9 521.2 483.1 525.5 483.3 C529.8 483.5 536.1 485.0 540.0 485.0 C543.9 485.0 545.7 483.5 549.0 483.3 C552.3 483.1 556.4 484.1 560.0 484.0 C563.6 483.9 566.3 482.2 570.4 482.7 C574.5 483.2 580.3 485.9 584.6 486.8 C588.9 487.7 594.0 487.0 596.4 488.0 C598.8 489.0 597.5 490.9 598.7 492.7 C599.9 494.5 601.9 497.2 603.5 498.6 C605.1 500.0 605.5 500.6 608.2 501.0 C611.0 501.4 617.0 500.5 620.0 501.0 C623.0 501.5 624.6 502.8 626.0 504.0 C627.4 505.2 628.2 507.6 628.6 508.3 L628.6 512 Q600 522 550 524 Q500 522 472 512z" fill="#fff" stroke="#111" stroke-width="1.3" stroke-linejoin="round"/><path d="M472.1 509.8 C473.5 510.1 478.1 510.9 480.6 511.8 C483.1 512.7 484.4 514.0 487.0 515.0 C489.6 516.0 493.3 517.4 496.1 517.6 C498.9 517.8 501.2 516.1 503.9 516.3 C506.5 516.5 510.6 518.5 512.0 519.0" stroke="#111" fill="none" stroke-width="1.2"/><path d="M590.0 519.0 C591.7 518.3 596.3 516.2 600.0 515.0 C603.7 513.8 608.3 512.7 612.0 512.0 C615.7 511.3 619.2 511.3 622.0 511.0 C624.8 510.7 627.5 510.2 628.6 510.0" stroke="#111" fill="none" stroke-width="1.2"/><path d="M545.0 488.0 C545.2 488.7 545.2 490.8 546.0 492.0 C546.8 493.2 549.3 494.5 550.0 495.0" stroke="#111" fill="none" stroke-width="1.2"/><path d="M552.0 490.0 C553.3 491.0 557.3 494.2 560.0 496.0 C562.7 497.8 564.3 500.0 568.0 501.0 C571.7 502.0 578.0 502.2 582.0 502.0 C586.0 501.8 590.3 500.3 592.0 500.0" stroke="#111" fill="none" stroke-width="1.2"/><path d="M503.0 503.0 C504.5 503.2 508.8 504.2 512.0 504.0 C515.2 503.8 519.0 503.2 522.0 502.0 C525.0 500.8 528.7 497.8 530.0 497.0" stroke="#111" fill="none" stroke-width="1.2"/><path d="M571.6 508 V518" stroke="#111" fill="none" stroke-width="1.2"/><path d="M525.5 506.0 C526.0 504.0 527.9 501.2 530.0 500.0 C532.1 498.8 535.3 498.9 538.0 498.5 C540.7 498.1 543.0 497.4 546.0 497.5 C549.0 497.6 552.8 498.4 556.0 499.0 C559.2 499.6 562.4 500.0 565.0 501.0 C567.6 502.0 570.9 503.3 571.6 505.0 C572.3 506.7 568.9 509.2 569.0 511.0 C569.1 512.8 573.8 514.8 572.0 516.0 C570.2 517.2 562.5 517.6 558.0 518.0 C553.5 518.4 549.3 518.3 545.0 518.1 C540.7 517.9 535.0 518.0 532.0 517.0 C529.0 516.0 528.1 513.8 527.0 512.0 C525.9 510.2 525.0 508.0 525.5 506.0z" fill="#fff" stroke="#111" stroke-width="1.2" stroke-linejoin="round"/><path d="M516.0 492.7 v3.5 a8.3 3.2 0 0 0 16.6 0 v-3.5" fill="#fff" stroke="#111" stroke-width="1.3"/><ellipse cx="524.3" cy="492.7" rx="8.3" ry="3.2" fill="#fff" stroke="#111" stroke-width="1.3"/><path d="M564.4 492.7 v3.5 a8.3 3.2 0 0 0 16.6 0 v-3.5" fill="#fff" stroke="#111" stroke-width="1.3"/><ellipse cx="572.7" cy="492.7" rx="8.3" ry="3.2" fill="#fff" stroke="#111" stroke-width="1.3"/><path d="M486.4 505.1 v3.5 a8.3 3.2 0 0 0 16.6 0 v-3.5" fill="#fff" stroke="#111" stroke-width="1.3"/><ellipse cx="494.7" cy="505.1" rx="8.3" ry="3.2" fill="#fff" stroke="#111" stroke-width="1.3"/><path d="M598.1 505.1 v3.5 a8.3 3.2 0 0 0 16.6 0 v-3.5" fill="#fff" stroke="#111" stroke-width="1.3"/><ellipse cx="606.4" cy="505.1" rx="8.3" ry="3.2" fill="#fff" stroke="#111" stroke-width="1.3"/><ellipse cx="550.3" cy="502.8" rx="51.4" ry="18.9" fill="none" stroke="#111" stroke-width="1.3"/><ellipse cx="550.3" cy="502.8" rx="48.5" ry="16" fill="none" stroke="#111" stroke-width="1.2"/><ellipse cx="550.3" cy="502.6" rx="45.8" ry="13.3" fill="none" stroke="#111" stroke-width="1.2"/><path d="M581 489 L589.3 513" stroke="#111" fill="none" stroke-width="1.2"/><path d="M569.2 522.3 v3.5 a8.3 3.2 0 0 0 16.6 0 v-3.5" fill="#fff" stroke="#111" stroke-width="1.3"/><ellipse cx="577.5" cy="522.3" rx="8.3" ry="3.2" fill="#fff" stroke="#111" stroke-width="1.3"/><rect x="572" y="526.5" width="11.5" height="9" fill="#111"/><path d="M548.4 549.0 C549.0 547.8 550.3 544.1 552.0 542.0 C553.7 539.9 555.5 537.9 558.8 536.6 C562.0 535.3 568.1 534.0 571.5 534.0 C574.9 534.0 575.6 536.6 579.0 536.6 C582.4 536.6 588.0 534.0 591.8 534.0 C595.6 534.0 599.6 534.9 601.9 536.6 C604.2 538.3 605.1 542.9 605.7 544.2 L605.6 596.4 C602.3 596.8 590.5 597.7 585.6 598.7 C580.7 599.7 579.6 602.1 576.3 602.6 C572.9 603.1 568.6 602.7 565.5 601.8 C562.4 600.9 560.5 598.4 557.7 597.2 C554.9 596.1 550.0 595.3 548.5 594.9 z" fill="#fff" stroke="#111" stroke-width="1.3" stroke-linejoin="round"/><path d="M548.4 549.0 C549.7 548.7 553.1 546.4 556.2 547.0 C559.3 547.6 564.2 551.4 567.0 552.4 C569.8 553.4 569.9 553.6 573.2 553.1 C576.6 552.6 581.7 550.3 587.1 549.3 C592.5 548.3 602.5 547.4 605.6 547.0" stroke="#111" fill="none" stroke-width="1.2"/><ellipse cx="577.8" cy="543.4" rx="5.5" ry="2.4" fill="#fff" stroke="#111" stroke-width="1.3"/><path d="M499.4 524.1 C500.8 523.7 504.9 522.4 507.8 521.5 C510.7 520.6 514.9 519.0 516.9 518.9 C518.9 518.8 517.6 521.0 519.5 521.0 C521.4 521.0 525.2 518.9 528.0 519.0 C530.8 519.1 533.3 521.2 536.3 521.5 C539.3 521.8 542.6 520.1 546.0 520.5 C549.4 520.9 554.7 523.5 556.4 524.1 L556.4 576 C553.3 576.6 542.3 577.0 537.6 577.9 C532.9 578.8 531.8 581.1 528.4 581.7 C525.0 582.3 521.1 582.6 517.5 581.7 C513.9 580.8 509.7 577.7 506.7 576.3 C503.7 574.9 500.6 573.9 499.4 573.4 z" fill="#fff" stroke="#111" stroke-width="1.3" stroke-linejoin="round"/><path d="M499.4 525.4 C501.0 525.8 506.2 527.1 509.1 528.0 C512.0 528.9 514.5 529.7 516.9 530.6 C519.3 531.5 520.8 533.2 523.4 533.2 C526.0 533.2 529.2 531.5 532.4 530.6 C535.6 529.7 538.8 529.0 542.8 528.0 C546.8 527.0 554.1 525.2 556.4 524.7" stroke="#111" fill="none" stroke-width="1.2"/><path d="M519.0 521.5 v3.5 a8.3 3.2 0 0 0 16.6 0 v-3.5" fill="#fff" stroke="#111" stroke-width="1.3"/><ellipse cx="527.3" cy="521.5" rx="8.3" ry="3.2" fill="#fff" stroke="#111" stroke-width="1.3"/><ellipse cx="576.3" cy="615" rx="12.3" ry="5" fill="#fff" stroke="#111" stroke-width="2.2"/><ellipse cx="576.3" cy="613.5" rx="8.5" ry="2.6" fill="#111"/><path d="M566 616.5 Q576.3 621 586.6 616.5" stroke="#111" stroke-width="1.6" fill="none"/><path d="M569 618v2M573 619v2M577 619.5v2M581 619v2M584.5 618v2" stroke="#111" stroke-width="1" fill="none"/><ellipse cx="867" cy="254.2" rx="29.3" ry="9.4" fill="#fff" stroke="#111" stroke-width="1.4"/><path d="M847.6 246 V258 Q852 262.5 867.5 262.5 Q883 262.5 887.4 258 V246" fill="#fff" stroke="#111" stroke-width="1.4"/><ellipse cx="867.5" cy="246" rx="19.9" ry="7" fill="#fff" stroke="#111" stroke-width="1.4"/><ellipse cx="869" cy="249.6" rx="9.5" ry="2.6" fill="none" stroke="#111" stroke-width="1.1"/><path d="M756.5 490.8 C757.2 490.4 758.4 489.0 760.9 488.1 C763.4 487.2 768.7 486.5 771.8 485.3 C774.9 484.1 777.6 482.3 779.4 481.0 C781.2 479.7 781.2 479.7 782.7 477.7 C784.2 475.7 784.9 471.2 788.2 469.0 C791.5 466.8 798.5 465.9 802.3 464.6 C806.1 463.3 807.0 462.8 811.0 461.4 C815.0 459.9 821.5 456.5 826.3 455.9 C831.1 455.3 835.7 457.8 840.0 458.0 C844.3 458.2 847.7 457.2 852.0 457.0 C856.3 456.8 861.0 456.7 866.0 456.5 C871.0 456.3 876.2 456.0 881.8 455.9 C887.3 455.8 894.6 455.0 899.3 455.9 C904.0 456.8 906.2 460.3 910.2 461.4 C914.2 462.5 919.9 461.9 923.2 462.4 C926.5 462.9 928.5 463.3 929.8 464.6 C931.1 465.9 930.0 468.4 930.9 470.0 C931.8 471.6 934.3 473.1 935.2 474.4 C936.1 475.7 934.3 476.4 936.3 477.7 C938.3 479.0 942.3 481.2 947.2 482.1 C952.1 483.0 962.2 482.1 965.8 483.2 C969.4 484.3 967.9 487.0 969.0 488.6 C970.1 490.2 971.8 492.3 972.3 493.0 L972.3 525 L756.5 525 z" fill="#fff" stroke="#111" stroke-width="1.3" stroke-linejoin="round"/><path d="M756.5 493.0 C758.0 493.6 762.6 495.0 765.3 496.3 C768.0 497.6 770.5 499.3 772.9 500.6 C775.2 501.9 776.3 503.2 779.4 503.9 C782.5 504.6 787.8 505.4 791.4 505.0 C795.0 504.6 798.9 502.0 801.3 501.7 C803.7 501.4 805.2 502.8 806.0 503.0 L806 575 C803.7 574.7 796.7 573.5 792.3 573.0 C787.9 572.5 782.4 572.6 779.8 571.8 C777.1 571.0 778.1 569.7 776.4 568.4 C774.7 567.1 772.8 565.0 769.5 563.9 C766.2 562.8 758.7 562.0 756.5 561.6 z" fill="#fff" stroke="#111" stroke-width="1.3" stroke-linejoin="round"/><path d="M779.8 503.9 V571.8" stroke="#111" fill="none" stroke-width="1.2"/><path d="M921.0 501.7 C923.5 500.6 931.6 496.1 936.3 495.2 C941.0 494.3 945.4 496.4 949.4 496.3 C953.4 496.2 956.2 495.1 960.0 494.5 C963.8 493.9 970.2 493.2 972.3 493.0 L972.3 562.2 C970.2 562.8 963.5 563.1 960.0 563.3 C956.5 563.5 954.5 563.4 951.4 563.9 C948.2 564.4 946.2 565.6 941.1 566.1 C936.0 566.6 924.4 566.9 921.0 567.0 z" fill="#fff" stroke="#111" stroke-width="1.3" stroke-linejoin="round"/><path d="M951 496.3 V563.9" stroke="#111" fill="none" stroke-width="1.2"/><path d="M829.5 486.7 C829.9 484.6 829.8 480.8 831.8 479.0 C833.8 477.2 837.0 476.3 841.8 475.9 C846.6 475.5 856.3 477.3 860.4 476.7 C864.5 476.1 864.5 472.4 866.6 472.0 C868.7 471.6 869.1 473.2 872.7 474.4 C876.3 475.6 884.3 477.5 888.2 479.0 C892.1 480.5 894.9 481.8 895.9 483.6 C896.9 485.4 895.7 487.7 894.4 489.8 C893.1 491.9 890.5 493.9 888.2 496.0 C885.9 498.1 885.6 500.9 880.5 502.2 C875.4 503.5 864.3 504.5 857.3 503.7 C850.3 502.9 843.3 499.6 838.7 497.5 C834.1 495.4 831.0 493.2 829.5 491.4 C828.0 489.6 829.1 488.8 829.5 486.7z" fill="#fff" stroke="#111" stroke-width="1.3" stroke-linejoin="round"/><path d="M866.6 472.0 C865.8 471.3 863.1 469.3 862.0 468.0 C860.9 466.7 860.3 464.7 860.0 464.0" stroke="#111" fill="none" stroke-width="1.2"/><path d="M872.7 474.4 C871.9 473.3 869.0 469.9 868.0 468.0 C867.0 466.1 867.2 463.8 867.0 463.0" stroke="#111" fill="none" stroke-width="1.2"/><path d="M829.5 487.0 C827.6 486.5 821.9 484.8 818.0 484.0 C814.1 483.2 808.2 482.4 806.3 482.1" stroke="#111" fill="none" stroke-width="1.2"/><path d="M895.9 483.6 C897.9 482.8 904.1 480.3 908.0 479.0 C911.9 477.7 917.2 476.4 919.1 475.9" stroke="#111" fill="none" stroke-width="1.2"/><path d="M838.7 497.5 C836.9 497.9 831.4 499.2 828.0 500.0 C824.6 500.8 820.2 501.8 818.6 502.2" stroke="#111" fill="none" stroke-width="1.2"/><path d="M888.2 496.0 C889.8 496.3 894.9 497.2 898.0 498.0 C901.1 498.8 905.2 500.2 906.7 500.6" stroke="#111" fill="none" stroke-width="1.2"/><path d="M841.8 475.9 C840.8 474.9 837.8 471.8 836.0 470.0 C834.2 468.2 831.8 465.9 831.0 465.1" stroke="#111" fill="none" stroke-width="1.2"/><path d="M888.2 479.0 C889.5 478.0 893.4 474.6 896.0 473.0 C898.6 471.4 902.3 470.2 903.6 469.7" stroke="#111" fill="none" stroke-width="1.2"/><path d="M815.7 468.7 v5.0 a11.5 4.2 0 0 0 23.0 0 v-5.0" fill="#fff" stroke="#111" stroke-width="1.3"/><ellipse cx="827.2" cy="468.7" rx="11.5" ry="4.2" fill="#fff" stroke="#111" stroke-width="1.3"/><path d="M883.4 469.0 v5.0 a11.5 4.2 0 0 0 23.0 0 v-5.0" fill="#fff" stroke="#111" stroke-width="1.3"/><ellipse cx="894.9" cy="469.0" rx="11.5" ry="4.2" fill="#fff" stroke="#111" stroke-width="1.3"/><path d="M783.5 486.4 v5.0 a11.5 4.2 0 0 0 23.0 0 v-5.0" fill="#fff" stroke="#111" stroke-width="1.3"/><ellipse cx="795.0" cy="486.4" rx="11.5" ry="4.2" fill="#fff" stroke="#111" stroke-width="1.3"/><path d="M928.5 486.0 v5.0 a11.5 4.2 0 0 0 23.0 0 v-5.0" fill="#fff" stroke="#111" stroke-width="1.3"/><ellipse cx="940.0" cy="486.0" rx="11.5" ry="4.2" fill="#fff" stroke="#111" stroke-width="1.3"/><path d="M793.6 510.4 C795.0 509.9 799.4 508.2 802.3 507.2 C805.2 506.2 808.5 504.4 811.0 504.4 C813.5 504.4 815.1 506.3 817.6 507.2 C820.1 508.1 821.9 509.4 826.3 510.0 C830.7 510.6 838.8 511.3 843.8 511.0 C848.8 510.7 851.3 509.0 856.0 508.0 C860.7 507.0 867.2 506.6 872.0 505.0 C876.8 503.4 880.3 499.2 885.0 498.4 C889.7 497.6 894.7 499.1 900.0 500.0 C905.3 500.9 910.8 502.9 916.7 503.9 C922.6 504.9 931.9 504.9 935.2 506.0 C938.5 507.1 935.3 508.9 936.3 510.4 C937.3 511.9 940.4 514.1 941.2 514.8 L941.2 583 C938.0 584.5 926.5 584.9 921.8 585.5 C917.0 586.1 916.1 586.5 912.7 587.7 C909.3 588.9 905.6 591.9 901.4 592.7 C897.2 593.5 891.1 592.9 887.7 592.3 C884.3 591.7 883.5 590.2 880.9 588.9 C878.2 587.6 874.4 584.7 871.8 584.3 C869.1 583.9 868.8 586.2 865.0 586.6 C861.2 587.0 852.9 586.2 849.1 586.6 C845.3 587.0 845.3 587.8 842.3 588.9 C839.3 590.0 835.1 592.8 830.9 593.4 C826.7 594.0 821.1 593.6 817.3 592.3 C813.5 591.0 812.2 587.4 808.2 585.5 C804.2 583.6 796.0 581.7 793.6 580.9 z" fill="#fff" stroke="#111" stroke-width="1.3" stroke-linejoin="round"/><path d="M793.6 513.0 C796.0 513.4 803.5 513.6 808.3 515.3 C813.1 516.9 817.8 522.2 822.5 522.9 C827.2 523.6 832.1 520.3 836.6 519.6 C841.1 518.9 845.7 519.5 849.7 518.6 C853.7 517.7 857.0 514.8 860.6 514.2 C864.2 513.7 868.0 514.2 871.6 515.3 C875.2 516.4 878.5 519.2 882.5 520.7 C886.5 522.2 891.6 524.0 895.6 524.0 C899.6 524.0 902.9 521.8 906.5 520.7 C910.1 519.6 913.0 518.6 917.4 517.5 C921.8 516.4 928.6 514.6 932.6 514.2 C936.6 513.8 939.8 515.1 941.2 515.3" stroke="#111" fill="none" stroke-width="1.2"/><path d="M821.8 522.9 V593.0" stroke="#111" fill="none" stroke-width="1.2"/><path d="M849.8 518.6 V586.6" stroke="#111" fill="none" stroke-width="1.2"/><path d="M872.5 515.3 V584.8" stroke="#111" fill="none" stroke-width="1.2"/><path d="M895.7 524.0 V592.7" stroke="#111" fill="none" stroke-width="1.2"/><path d="M916.8 517.5 V587.5" stroke="#111" fill="none" stroke-width="1.2"/><path d="M821.4 509.3 v5.0 a11.5 4.2 0 0 0 23.0 0 v-5.0" fill="#fff" stroke="#111" stroke-width="1.3"/><ellipse cx="832.9" cy="509.3" rx="11.5" ry="4.2" fill="#fff" stroke="#111" stroke-width="1.3"/><path d="M890.5 510.0 v5.0 a11.5 4.2 0 0 0 23.0 0 v-5.0" fill="#fff" stroke="#111" stroke-width="1.3"/><ellipse cx="902.0" cy="510.0" rx="11.5" ry="4.2" fill="#fff" stroke="#111" stroke-width="1.3"/><path d="M845 262.5 L798.5 487 M867.3 264.8 L874.8 457.5 M887.4 262.5 L921.7 495.6" stroke="#111" fill="none" stroke-width="1.3"/><path d="M865.0 265.0 C863.3 268.3 857.4 277.5 855.0 285.0 C852.6 292.5 850.0 300.0 850.5 310.0 C851.0 320.0 854.6 332.5 858.0 345.0 C861.4 357.5 869.5 374.2 870.8 385.0 C872.1 395.8 871.1 400.8 866.0 410.0 C860.9 419.2 850.0 430.8 840.0 440.0 C830.0 449.2 811.8 460.9 806.1 465.1" stroke="#111" fill="none" stroke-width="2.4"/><ellipse cx="864.3" cy="483.8" rx="72.8" ry="26.4" fill="none" stroke="#111" stroke-width="1.3"/><ellipse cx="864.3" cy="483.8" rx="69.8" ry="23.4" fill="none" stroke="#111" stroke-width="1.2"/><ellipse cx="864.3" cy="483.8" rx="66.8" ry="20.4" fill="none" stroke="#111" stroke-width="1.2"/>
</svg>
</body></html>
